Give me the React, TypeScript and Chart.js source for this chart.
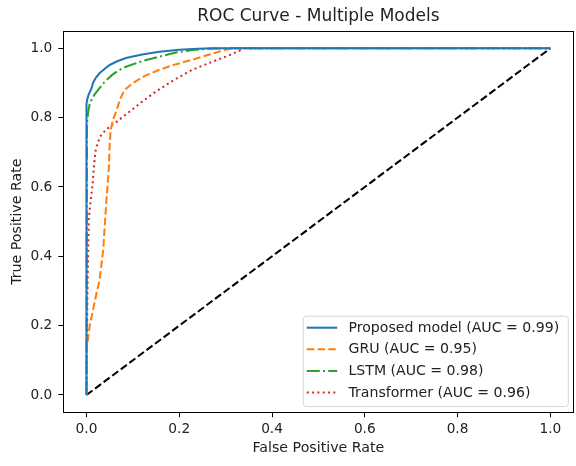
import React, { useEffect, useRef } from "react";
import { Chart, registerables } from "chart.js";

Chart.register(...registerables);

const titleText = "ROC Curve - Multiple Models";
const xAxisLabel = "False Positive Rate";
const yAxisLabel = "True Positive Rate";
const tickValues = [0, 0.2, 0.4, 0.6, 0.8, 1.0];

const proposedLabel = "Proposed model (AUC = 0.99)";
const proposedFpr = [0, 0, 0.002, 0.005, 0.011, 0.014, 0.02, 0.028, 0.04, 0.05, 0.065, 0.085, 0.12, 0.157, 0.2, 0.24, 0.27, 1];
const proposedTpr = [0, 0.84, 0.855, 0.868, 0.885, 0.9, 0.915, 0.928, 0.942, 0.952, 0.962, 0.972, 0.982, 0.99, 0.996, 0.999, 1, 1];

const gruLabel = "GRU (AUC = 0.95)";
const gruFpr = [0, 0.001, 0.007, 0.014, 0.021, 0.028, 0.036, 0.043, 0.048, 0.05, 0.052, 0.057, 0.065, 0.073, 0.082, 0.1, 0.125, 0.157, 0.19, 0.228, 0.265, 0.3, 0.32, 1];
const gruTpr = [0, 0.14, 0.2, 0.245, 0.29, 0.33, 0.418, 0.563, 0.65, 0.72, 0.764, 0.793, 0.822, 0.855, 0.88, 0.9, 0.92, 0.938, 0.953, 0.967, 0.982, 0.996, 1, 1];

const lstmLabel = "LSTM (AUC = 0.98)";
const lstmFpr = [0, 0.001, 0.004, 0.007, 0.012, 0.018, 0.028, 0.04, 0.056, 0.07, 0.085, 0.12, 0.157, 0.19, 0.228, 0.26, 0.3, 1];
const lstmTpr = [0, 0.785, 0.82, 0.84, 0.855, 0.868, 0.885, 0.905, 0.924, 0.937, 0.947, 0.963, 0.976, 0.987, 0.995, 0.999, 1, 1];

const transformerLabel = "Transformer (AUC = 0.96)";
const transformerFpr = [0, 0.002, 0.005, 0.009, 0.013, 0.016, 0.02, 0.029, 0.04, 0.05, 0.065, 0.079, 0.1, 0.115, 0.147, 0.19, 0.228, 0.265, 0.3, 0.325, 0.34, 1];
const transformerTpr = [0, 0.3, 0.51, 0.56, 0.605, 0.66, 0.71, 0.745, 0.762, 0.774, 0.788, 0.803, 0.825, 0.841, 0.873, 0.91, 0.938, 0.958, 0.976, 0.99, 1, 1];

const chanceFpr = [0, 1];
const chanceTpr = [0, 1];

const FONT = "'DejaVu Sans', sans-serif";
const TEXT_COLOR = "#222222";
const LW = 2.05;

function pts(xs: number[], ys: number[]) {
  return xs.map((x, i) => ({ x, y: ys[i] }));
}

const legendPlugin = {
  id: "mplLegend",
  afterDraw(chart: any) {
    const { ctx, chartArea: ca } = chart;
    ctx.save();
    ctx.strokeStyle = "#000";
    ctx.lineWidth = 1;
    ctx.beginPath();
    ctx.moveTo(ca.left, Math.round(ca.top) + 0.5);
    ctx.lineTo(ca.right, Math.round(ca.top) + 0.5);
    ctx.moveTo(Math.round(ca.right) - 0.5, ca.top);
    ctx.lineTo(Math.round(ca.right) - 0.5, ca.bottom);
    ctx.stroke();

    ctx.fillStyle = TEXT_COLOR;
    ctx.font = `17px ${FONT}`;
    ctx.textAlign = "center";
    ctx.textBaseline = "alphabetic";
    ctx.fillText(titleText, (ca.left + ca.right) / 2, 20.7);

    const items = chart.data.datasets.filter((d: any) => d.label);
    const boxW = 265;
    const rowH = 21.6;
    const boxH = 12 + rowH * (items.length - 1) + 13.5;
    const bx = ca.right - 5.7 - boxW;
    const by = ca.bottom - 6.3 - boxH;
    ctx.globalAlpha = 0.8;
    ctx.fillStyle = "#ffffff";
    ctx.strokeStyle = "#cccccc";
    ctx.beginPath();
    ctx.roundRect(bx + 0.5, by + 0.5, boxW, boxH, 3);
    ctx.fill();
    ctx.stroke();
    ctx.globalAlpha = 1;
    ctx.font = `14.1px ${FONT}`;
    ctx.textAlign = "left";
    ctx.textBaseline = "middle";
    items.forEach((d: any, i: number) => {
      const y = by + 12 + i * rowH;
      ctx.strokeStyle = d.borderColor;
      ctx.lineWidth = d.borderWidth;
      ctx.setLineDash(d.borderDash || []);
      ctx.beginPath();
      ctx.moveTo(bx + 4, y);
      ctx.lineTo(bx + 34.4, y);
      ctx.stroke();
      ctx.setLineDash([]);
      ctx.fillStyle = TEXT_COLOR;
      ctx.fillText(d.label, bx + 45.7, y + 0.5);
    });
    ctx.restore();
  },
};

export default function App() {
  const ref = useRef<HTMLCanvasElement | null>(null);
  useEffect(() => {
    if (!ref.current) return;
    const setTicks = (scale: any) => {
      scale.ticks = tickValues.map((v) => ({ value: v }));
    };
    const chart = new Chart(ref.current, {
      type: "line",
      data: {
        datasets: [
          { label: proposedLabel, data: pts(proposedFpr, proposedTpr), borderColor: "#1f77b4", borderWidth: LW, borderDash: [] },
          { label: gruLabel, data: pts(gruFpr, gruTpr), borderColor: "#ff7f0e", borderWidth: LW, borderDash: [7.5, 3.2] },
          { label: lstmLabel, data: pts(lstmFpr, lstmTpr), borderColor: "#2ca02c", borderWidth: LW, borderDash: [13, 3.2, 2, 3.2] },
          { label: transformerLabel, data: pts(transformerFpr, transformerTpr), borderColor: "#d62728", borderWidth: LW, borderDash: [2, 3.3] },
          { label: "", data: pts(chanceFpr, chanceTpr), borderColor: "#000000", borderWidth: LW, borderDash: [7.5, 3.2] },
        ] as any,
      },
      options: {
        animation: false,
        responsive: false,
        devicePixelRatio: 1,
        layout: { padding: { top: 31, right: 2.5, left: 0, bottom: 0 } },
        elements: { point: { radius: 0 }, line: { tension: 0, fill: false } },
        plugins: { legend: { display: false }, tooltip: { enabled: false }, title: { display: false } },
        scales: {
          x: {
            type: "linear",
            min: -0.05,
            max: 1.05,
            afterBuildTicks: setTicks,
            afterFit: (s: any) => { s.height = 53.7; },
            grid: { drawOnChartArea: false, drawTicks: true, tickLength: 5, color: "#000" },
            border: { display: true, color: "#000", width: 1 },
            ticks: { color: TEXT_COLOR, font: { family: FONT, size: 13.7 }, padding: 3.5, maxRotation: 0, callback: (v: any) => Number(v).toFixed(1) },
            title: { display: true, text: xAxisLabel, color: TEXT_COLOR, font: { family: FONT, size: 14.2 }, padding: { top: 0, bottom: 9.5 } },
          },
          y: {
            type: "linear",
            min: -0.05,
            max: 1.05,
            afterBuildTicks: setTicks,
            afterFit: (s: any) => { s.width = 63.3; },
            grid: { drawOnChartArea: false, drawTicks: true, tickLength: 5, color: "#000" },
            border: { display: true, color: "#000", width: 1 },
            ticks: { color: TEXT_COLOR, font: { family: FONT, size: 13.7 }, padding: 6, callback: (v: any) => Number(v).toFixed(1) },
            title: { display: true, text: yAxisLabel, color: TEXT_COLOR, font: { family: FONT, size: 14.2 }, padding: { top: 8.5, bottom: 0 } },
          },
        },
      } as any,
      plugins: [legendPlugin],
    });
    return () => chart.destroy();
  }, []);
  return (
    <div style={{ position: "absolute", left: 0, top: 0, width: 576, height: 466, background: "#fff" }}>
      <canvas ref={ref} width={576} height={466} style={{ display: "block", width: 576, height: 466 }} />
    </div>
  );
}
